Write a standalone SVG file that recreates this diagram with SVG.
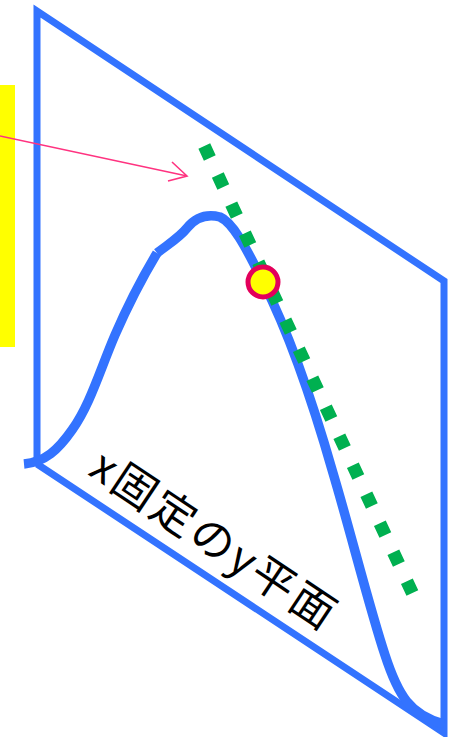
<svg xmlns="http://www.w3.org/2000/svg" width="454" height="737" viewBox="0 0 454 737">
<style>
.plane{fill:none;stroke:#3373ff;stroke-width:7;stroke-linejoin:miter}
.curve{fill:none;stroke:#3373ff;stroke-width:9.5;stroke-linecap:butt}
.tan{fill:none;stroke:#00b050;stroke-width:13;stroke-dasharray:13 19}
.arrow{fill:none;stroke:#ff3380;stroke-width:1.6}
.lbl{font-family:"Noto Sans CJK JP","Noto Sans",sans-serif;font-size:44px;fill:#000}
</style>
<rect x="0" y="0" width="454" height="737" fill="#fff"/>
<g id="highlight"><rect x="0" y="85" width="15" height="262" fill="#ffff00"/></g>
<g id="plane"><path class="plane" d="M37,464 L37,11 L444,281 L444,733 L37,464"/></g>
<g id="curve">
<path class="curve" d="M24,464 C45,462 58,450 72,430 C90,405 100,370 115,335 C128,305 142,278 157,253"/>
<path class="curve" d="M157,253 C170,243 180,237 187,228 C196,217 208,214 220,217 C232,222 245,245 263,282 C290,335 315,410 333,473 C350,530 370,610 385,655 C398,695 410,715 444,724"/>
</g>
<g id="connectors">
<path class="tan" d="M204.3,146.1 L412.75,593.9"/>
<path class="arrow" d="M0,136 L187,176 M172,162 L187,176 L168,181"/>
</g>
<g id="point"><circle cx="263" cy="282" r="15" fill="#ffff00" stroke="#e3005b" stroke-width="5"/></g>
<g id="label"><text class="lbl" transform="translate(87,474) rotate(33.7)" letter-spacing="3">x固定のy平面</text></g>
</svg>
